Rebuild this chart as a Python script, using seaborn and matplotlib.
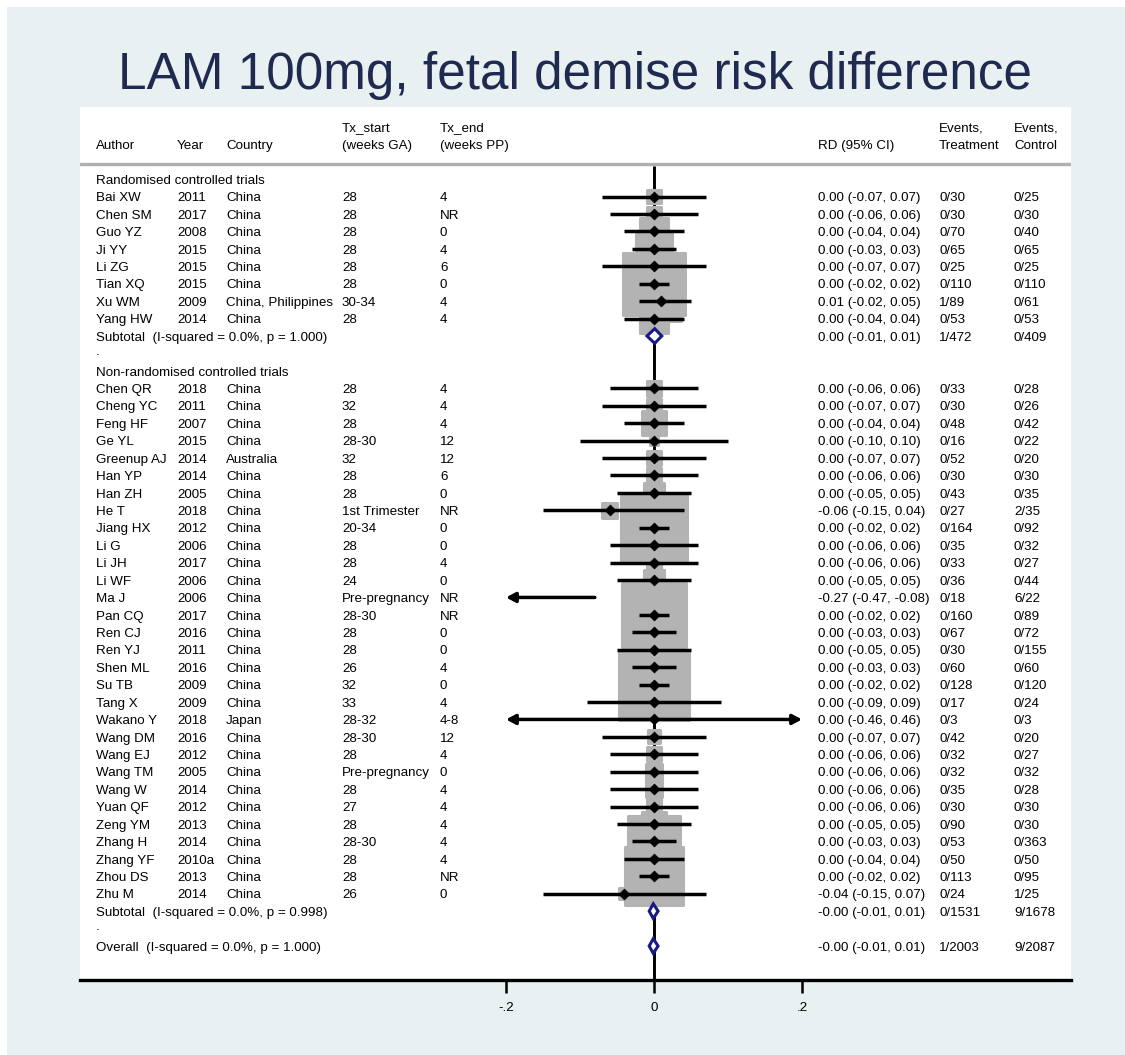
import numpy as np
import pandas as pd
import matplotlib
matplotlib.use("Agg")
import matplotlib.pyplot as plt
from matplotlib.patches import Rectangle
import seaborn as sns

# ---------------------------------------------------------------- data
rct_author = ["Bai XW", "Chen SM", "Guo YZ", "Ji YY", "Li ZG", "Tian XQ", "Xu WM", "Yang HW"]
rct_year = ["2011", "2017", "2008", "2015", "2015", "2015", "2009", "2014"]
rct_country = ["China", "China", "China", "China", "China", "China", "China, Philippines", "China"]
rct_tx_start = ["28", "28", "28", "28", "28", "28", "30-34", "28"]
rct_tx_end = ["4", "NR", "0", "4", "6", "0", "4", "4"]
rct_rd = [0.00, 0.00, 0.00, 0.00, 0.00, 0.00, 0.01, 0.00]
rct_lo = [-0.07, -0.06, -0.04, -0.03, -0.07, -0.02, -0.02, -0.04]
rct_hi = [0.07, 0.06, 0.04, 0.03, 0.07, 0.02, 0.05, 0.04]
rct_ev_t = ["0/30", "0/30", "0/70", "0/65", "0/25", "0/110", "1/89", "0/53"]
rct_ev_c = ["0/25", "0/30", "0/40", "0/65", "0/25", "0/110", "0/61", "0/53"]
rct_weight = [1.49, 1.64, 2.78, 3.55, 1.37, 6.01, 3.96, 2.90]

nrct_author = ["Chen QR", "Cheng YC", "Feng HF", "Ge YL", "Greenup AJ", "Han YP", "Han ZH",
               "He T", "Jiang HX", "Li G", "Li JH", "Li WF", "Ma J", "Pan CQ", "Ren CJ",
               "Ren YJ", "Shen ML", "Su TB", "Tang X", "Wakano Y", "Wang DM", "Wang EJ",
               "Wang TM", "Wang W", "Yuan QF", "Zeng YM", "Zhang H", "Zhang YF", "Zhou DS",
               "Zhu M"]
nrct_year = ["2018", "2011", "2007", "2015", "2014", "2014", "2005", "2018", "2012", "2006",
             "2017", "2006", "2006", "2017", "2016", "2011", "2016", "2009", "2009", "2018",
             "2016", "2012", "2005", "2014", "2012", "2013", "2014", "2010a", "2013", "2014"]
nrct_country = ["China", "China", "China", "China", "Australia", "China", "China", "China",
                "China", "China", "China", "China", "China", "China", "China", "China",
                "China", "China", "China", "Japan", "China", "China", "China", "China",
                "China", "China", "China", "China", "China", "China"]
nrct_tx_start = ["28", "32", "28", "28-30", "32", "28", "28", "1st Trimester", "20-34", "28",
                 "28", "24", "Pre-pregnancy", "28-30", "28", "28", "26", "32", "33", "28-32",
                 "28-30", "28", "Pre-pregnancy", "28", "27", "28", "28-30", "28", "28", "26"]
nrct_tx_end = ["4", "4", "4", "12", "12", "6", "0", "NR", "0", "0", "4", "0", "NR", "NR",
               "0", "0", "4", "0", "4", "4-8", "12", "4", "0", "4", "4", "4", "4", "4", "NR", "0"]
nrct_rd = [0.00, 0.00, 0.00, 0.00, 0.00, 0.00, 0.00, -0.06, 0.00, 0.00, 0.00, 0.00, -0.27,
           0.00, 0.00, 0.00, 0.00, 0.00, 0.00, 0.00, 0.00, 0.00, 0.00, 0.00, 0.00, 0.00, 0.00,
           0.00, 0.00, -0.04]
nrct_lo = [-0.06, -0.07, -0.04, -0.10, -0.07, -0.06, -0.05, -0.15, -0.02, -0.06, -0.06, -0.05,
           -0.47, -0.02, -0.03, -0.05, -0.03, -0.02, -0.09, -0.46, -0.07, -0.06, -0.06, -0.06,
           -0.06, -0.05, -0.03, -0.04, -0.02, -0.15]
nrct_hi = [0.06, 0.07, 0.04, 0.10, 0.07, 0.06, 0.05, 0.04, 0.02, 0.06, 0.06, 0.05, -0.08,
           0.02, 0.03, 0.05, 0.03, 0.02, 0.09, 0.46, 0.07, 0.06, 0.06, 0.06, 0.06, 0.05, 0.03,
           0.04, 0.02, 0.07]
nrct_ev_t = ["0/33", "0/30", "0/48", "0/16", "0/52", "0/30", "0/43", "0/27", "0/164", "0/35",
             "0/33", "0/36", "0/18", "0/160", "0/67", "0/30", "0/60", "0/128", "0/17", "0/3",
             "0/42", "0/32", "0/32", "0/35", "0/30", "0/90", "0/53", "0/50", "0/113", "0/24"]
nrct_ev_c = ["0/28", "0/26", "0/42", "0/22", "0/20", "0/30", "0/35", "2/35", "0/92", "0/32",
             "0/27", "0/44", "6/22", "0/89", "0/72", "0/155", "0/60", "0/120", "0/24", "0/3",
             "0/20", "0/27", "0/32", "0/28", "0/30", "0/30", "0/363", "0/50", "0/95", "1/25"]
nrct_weight = [1.66, 1.52, 2.45, 1.01, 1.58, 1.64, 2.11, 1.67, 6.45, 1.83, 1.62, 2.17, 1.08,
               6.25, 3.80, 2.75, 3.28, 6.77, 1.09, 0.16, 1.48, 1.60, 1.75, 1.70, 1.64, 2.46,
               5.06, 2.73, 5.64, 1.34]

# pooled estimates: label, estimate, lower, upper, events treatment, events control
pooled_label = ["Subtotal  (I-squared = 0.0%, p = 1.000)",
                "Subtotal  (I-squared = 0.0%, p = 0.998)",
                "Overall  (I-squared = 0.0%, p = 1.000)"]
pooled_rd = [0.001, -0.001, -0.001]
pooled_lo = [-0.0095, -0.0065, -0.0065]
pooled_hi = [0.0105, 0.0055, 0.0055]
pooled_ev_t = ["1/472", "0/1531", "1/2003"]
pooled_ev_c = ["0/409", "9/1678", "9/2087"]

group_titles = ["Randomised controlled trials", "Non-randomised controlled trials"]
title = "LAM 100mg, fetal demise risk difference"
x_ticks = [-0.2, 0.0, 0.2]
x_tick_labels = ["-.2", "0", ".2"]

# ---------------------------------------------------------------- layout of rows
n_rct, n_nrct = len(rct_author), len(nrct_author)
row_rct_head = 0
rows_rct = list(range(1, 1 + n_rct))
row_rct_sub = 1 + n_rct
row_nrct_head = row_rct_sub + 2
rows_nrct = list(range(row_nrct_head + 1, row_nrct_head + 1 + n_nrct))
row_nrct_sub = rows_nrct[-1] + 1
row_overall = row_nrct_sub + 2
pooled_rows = [row_rct_sub, row_nrct_sub, row_overall]

studies = pd.DataFrame({
    "author": rct_author + nrct_author,
    "year": rct_year + nrct_year,
    "country": rct_country + nrct_country,
    "tx_start": rct_tx_start + nrct_tx_start,
    "tx_end": rct_tx_end + nrct_tx_end,
    "rd": rct_rd + nrct_rd,
    "lo": rct_lo + nrct_lo,
    "hi": rct_hi + nrct_hi,
    "ev_t": rct_ev_t + nrct_ev_t,
    "ev_c": rct_ev_c + nrct_ev_c,
    "weight": rct_weight + nrct_weight,
    "row": rows_rct + rows_nrct,
})

# ---------------------------------------------------------------- style
sns.set_theme(style="white")
plt.rcParams["font.family"] = ["Liberation Sans", "DejaVu Sans"]

W, H = 1125, 1055
fig = plt.figure(figsize=(W / 100, H / 100), dpi=100)
fig.patch.set_facecolor("white")
fig.add_artist(Rectangle((7 / W, 0), 1 - 7 / W, 1 - 7 / H, transform=fig.transFigure,
                         facecolor="#e8f0f2", edgecolor="none", zorder=0))

left_px, right_px, top_px, bottom_px = 80, 1071, 107, 980
ax = fig.add_axes([left_px / W, 1 - bottom_px / H, (right_px - left_px) / W,
                   (bottom_px - top_px) / H])
ax.set_facecolor("white")

px_per_unit = 740.0
zero_px = 654.0
ax.set_xlim((left_px - zero_px) / px_per_unit, (right_px - zero_px) / px_per_unit)
ax.set_ylim(45.95, -4.14)

def colx(px):
    return (px - zero_px) / px_per_unit

clip_lo, clip_hi = -0.2, 0.2
txt_kw = dict(fontsize=9.6, color="black", va="center")
txt_dy = 0.1
grey_box = "#b3b3b3"
navy = "#1a1a84"
px2pt = 0.72

# header
for x, lines in [(96, ["Author"]), (177, ["Year"]), (226, ["Country"]),
                 (342, ["Tx_start", "(weeks GA)"]), (440, ["Tx_end", "(weeks PP)"]),
                 (818, ["RD (95% CI)"]), (939, ["Events,", "Treatment"]),
                 (1014, ["Events,", "Control"])]:
    ys = [-1.9] if len(lines) == 1 else [-2.93, -1.9]
    for yy, s in zip(ys, lines):
        ax.text(colx(x), yy, s, **txt_kw)
ax.axhline(-0.86, color="#b0b0b0", lw=2.4, zorder=1)

# vertical line of no effect
ax.vlines(0, -0.75, 45.95, color="black", lw=2.1, zorder=2)

# weight boxes (side proportional to study weight, rounded corners)
shown = studies[(studies["rd"] >= clip_lo) & (studies["rd"] <= clip_hi)]
side_px = shown["weight"] * 10.8
sns.scatterplot(x=shown["rd"], y=shown["row"], marker="s",
                s=((side_px - 3).clip(lower=1) * px2pt) ** 2,
                color=grey_box, edgecolor=grey_box, linewidth=2.2, legend=False,
                ax=ax, zorder=3)
ax.collections[-1].set_joinstyle("round")

# confidence intervals, arrows where they run past the axis range
for _, r in studies.iterrows():
    lo, hi = max(r["lo"], clip_lo), min(r["hi"], clip_hi)
    left_cut, right_cut = r["lo"] < clip_lo, r["hi"] > clip_hi
    if left_cut or right_cut:
        style = "<|-|>" if (left_cut and right_cut) else ("<|-" if left_cut else "-|>")
        ax.annotate("", xy=(hi, r["row"]), xytext=(lo, r["row"]),
                    arrowprops=dict(arrowstyle=style + ",head_length=0.45,head_width=0.24",
                                    color="black", lw=2.5, shrinkA=0, shrinkB=0),
                    zorder=4)
    else:
        ax.hlines(r["row"], lo, hi, color="black", lw=2.5, zorder=4)

# point estimates
sns.scatterplot(x=shown["rd"], y=shown["row"], marker="D", s=30, color="black",
                edgecolor="black", linewidth=0.6, legend=False, ax=ax, zorder=5)

# pooled diamonds
for yy, est, lo, hi in zip(pooled_rows, pooled_rd, pooled_lo, pooled_hi):
    ax.fill([lo, est, hi, est, lo], [yy, yy - 0.42, yy, yy + 0.42, yy],
            facecolor="white", edgecolor=navy, lw=2.2, zorder=5)

# text columns
def rd_text(e, lo, hi):
    return f"{e:.2f} ({lo:.2f}, {hi:.2f})"

for _, r in studies.iterrows():
    y = r["row"] + txt_dy
    ax.text(colx(96), y, r["author"], **txt_kw)
    ax.text(colx(177), y, r["year"], **txt_kw)
    ax.text(colx(226), y, r["country"], **txt_kw)
    ax.text(colx(342), y, r["tx_start"], **txt_kw)
    ax.text(colx(440), y, r["tx_end"], **txt_kw)
    ax.text(colx(818), y, rd_text(r["rd"], r["lo"], r["hi"]), **txt_kw)
    ax.text(colx(939), y, r["ev_t"], **txt_kw)
    ax.text(colx(1014), y, r["ev_c"], **txt_kw)

ax.text(colx(96), row_rct_head + txt_dy, group_titles[0], **txt_kw)
ax.text(colx(96), row_nrct_head + txt_dy, group_titles[1], **txt_kw)
for yy in [row_rct_sub + 1, row_nrct_sub + 1]:
    ax.text(colx(96), yy - 0.1, ".", **txt_kw)
for yy, lab, e, lo, hi, et, ec in zip(pooled_rows, pooled_label, pooled_rd, pooled_lo,
                                      pooled_hi, pooled_ev_t, pooled_ev_c):
    ty = yy + txt_dy
    ax.text(colx(96), ty, lab, **txt_kw)
    ax.text(colx(818), ty, rd_text(e, lo, hi), **txt_kw)
    ax.text(colx(939), ty, et, **txt_kw)
    ax.text(colx(1014), ty, ec, **txt_kw)

# axis
for side in ["top", "left", "right"]:
    ax.spines[side].set_visible(False)
ax.spines["bottom"].set_color("black")
ax.spines["bottom"].set_linewidth(2.4)
ax.set_yticks([])
ax.set_xticks(x_ticks)
ax.set_xticklabels(x_tick_labels)
ax.tick_params(axis="x", bottom=True, direction="out", length=9, width=1.8,
               color="black", pad=7, labelsize=9.6, labelcolor="black")
ax.set_xlabel("")
ax.set_ylabel("")

fig.text(575 / W, 1 - 75 / H, title, fontsize=36.9, color="#1f2a50",
         ha="center", va="center")

fig.savefig("out.png", dpi=100)
